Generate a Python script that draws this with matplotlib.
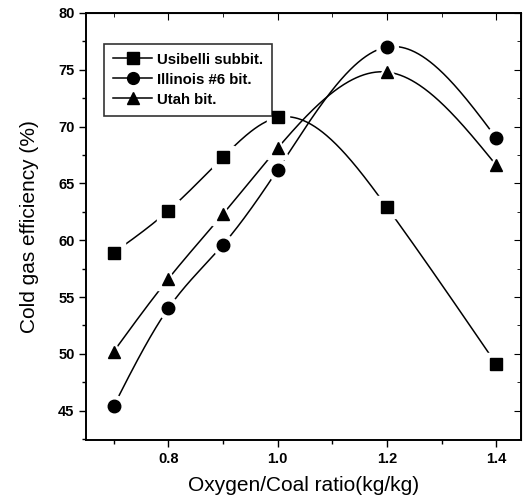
import numpy as np
import matplotlib
matplotlib.use("Agg")
import matplotlib.pyplot as plt
from matplotlib.ticker import MultipleLocator
from matplotlib.lines import Line2D

plt.rcParams['font.family'] = ['Liberation Sans', 'DejaVu Sans']

ratio = [0.7, 0.8, 0.9, 1.0, 1.2, 1.4]
usibelli = [58.9, 62.6, 67.3, 70.8, 62.9, 49.1]
illinois = [45.4, 54.0, 59.6, 66.2, 77.0, 69.0]
utah = [50.2, 56.6, 62.3, 68.1, 74.8, 66.6]
series_names = ["Usibelli subbit.", "Illinois #6 bit.", "Utah bit."]
series_markers = ["s", "o", "^"]


def natural_spline(x, y, n=400):
    x = np.asarray(x, float)
    y = np.asarray(y, float)
    m = len(x)
    h = np.diff(x)
    A = np.zeros((m, m))
    b = np.zeros(m)
    A[0, 0] = A[-1, -1] = 1.0
    for i in range(1, m - 1):
        A[i, i - 1] = h[i - 1]
        A[i, i] = 2 * (h[i - 1] + h[i])
        A[i, i + 1] = h[i]
        b[i] = 6 * ((y[i + 1] - y[i]) / h[i] - (y[i] - y[i - 1]) / h[i - 1])
    M = np.linalg.solve(A, b)
    xs = np.linspace(x[0], x[-1], n)
    idx = np.clip(np.searchsorted(x, xs) - 1, 0, m - 2)
    x0, x1 = x[idx], x[idx + 1]
    hh = x1 - x0
    t0 = x1 - xs
    t1 = xs - x0
    ys = (M[idx] * t0 ** 3 / (6 * hh) + M[idx + 1] * t1 ** 3 / (6 * hh)
          + (y[idx] / hh - M[idx] * hh / 6) * t0
          + (y[idx + 1] / hh - M[idx + 1] * hh / 6) * t1)
    return xs, ys


fig = plt.figure(figsize=(5.23, 4.98), dpi=100)
ax = fig.add_axes([0.165, 0.116, 0.831, 0.858])

for vals, mk in zip([usibelli, illinois, utah], series_markers):
    xs, ys = natural_spline(ratio, vals)
    ax.plot(xs, ys, color='black', lw=1.1, zorder=2)
    # white halo leaves a small gap between curve and marker
    ax.plot(ratio, vals, ls='none', marker=mk, ms=15.5, color='white',
            markeredgecolor='white', zorder=3)
    ax.plot(ratio, vals, ls='none', marker=mk, ms=9, color='black', zorder=4)

ax.set_xlim(0.65, 1.445)
ax.set_ylim(42.4, 80)
ax.xaxis.set_major_locator(MultipleLocator(0.2))
ax.xaxis.set_minor_locator(MultipleLocator(0.1))
ax.yaxis.set_major_locator(MultipleLocator(5))
ax.yaxis.set_minor_locator(MultipleLocator(2.5))
ax.set_xticks([0.8, 1.0, 1.2, 1.4])
ax.set_xticklabels(["0.8", "1.0", "1.2", "1.4"])

ax.tick_params(which='both', direction='out', top=False, right=False,
               labelsize=10.5, width=1.0)
ax.tick_params(which='major', length=5)
ax.tick_params(which='minor', length=3)
for lab in ax.get_xticklabels() + ax.get_yticklabels():
    lab.set_fontweight('bold')

# inward ticks on top and right edges
sec_x = ax.secondary_xaxis('top')
sec_x.set_xticks([0.8, 1.0, 1.2, 1.4])
sec_x.xaxis.set_minor_locator(MultipleLocator(0.1))
sec_x.tick_params(which='both', direction='in', labeltop=False)
sec_x.tick_params(which='major', length=5)
sec_x.tick_params(which='minor', length=3)
sec_y = ax.secondary_yaxis('right')
sec_y.yaxis.set_major_locator(MultipleLocator(5))
sec_y.yaxis.set_minor_locator(MultipleLocator(2.5))
sec_y.tick_params(which='both', direction='in', labelright=False)
sec_y.tick_params(which='major', length=5)
sec_y.tick_params(which='minor', length=3)

for sp in ax.spines.values():
    sp.set_linewidth(1.4)

ax.set_xlabel("Oxygen/Coal ratio(kg/kg)", fontsize=15, labelpad=7)
ax.set_ylabel("Cold gas efficiency (%)", fontsize=15, labelpad=14)

handles = [Line2D([], [], color='black', lw=1.1, marker=mk, ms=8.5)
           for mk in series_markers]
leg = ax.legend(handles, series_names, loc='upper left',
                bbox_to_anchor=(0.041, 0.928), borderaxespad=0,
                frameon=True, fancybox=False,
                edgecolor='black', fontsize=10.8, handlelength=2.6,
                handletextpad=0.35, borderpad=0.6, labelspacing=0.4)
leg.get_frame().set_linewidth(1.2)
for t in leg.get_texts():
    t.set_fontweight('bold')

fig.savefig("out.png", dpi=100)
